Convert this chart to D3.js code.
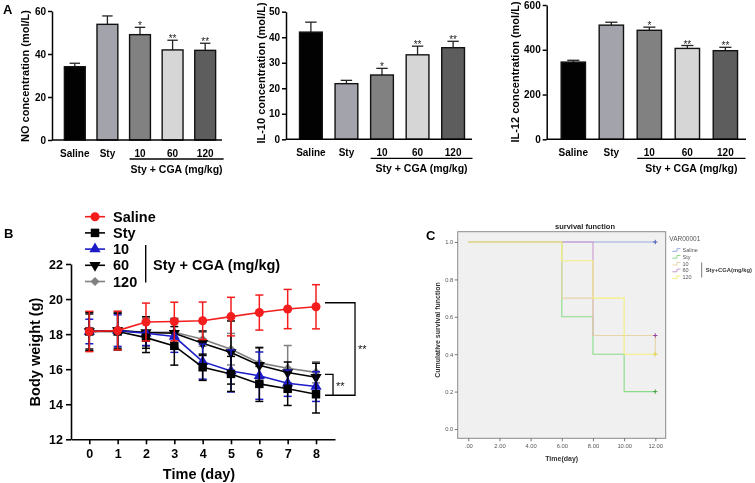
<!DOCTYPE html>
<html><head><meta charset="utf-8">
<script src="https://cdn.jsdelivr.net/npm/d3@7"></script>
<style>
body{margin:0;background:#fff}
svg{display:block}
text{font-family:"Liberation Sans",Arial,Helvetica,sans-serif}
</style>
</head><body>
<svg id="chart" width="755" height="483"></svg>
<script>
// ---------- DATA ----------
const groups = ["Saline", "Sty", "10", "60", "120"];
const barColors = ["#000000", "#a3a3ab", "#808080", "#d6d6d6", "#5c5c5c"];

const noValues = [34.1, 53.8, 49.0, 41.9, 41.7];
const noErrors = [1.6, 3.9, 3.4, 4.5, 3.3];
const noStars = ["", "", "*", "**", "**"];
const noTicks = [0, 20, 40, 60];

const il10Values = [42.0, 21.8, 25.2, 33.1, 35.9];
const il10Errors = [3.9, 1.3, 2.6, 3.4, 2.5];
const il10Stars = ["", "", "*", "**", "**"];
const il10Ticks = [0, 10, 20, 30, 40, 50];

const il12Values = [345, 510, 487, 406, 396];
const il12Errors = [8, 13, 14, 13, 15];
const il12Stars = ["", "", "*", "**", "**"];
const il12Ticks = [0, 200, 400, 600];

const days = [0, 1, 2, 3, 4, 5, 6, 7, 8];
const salineWeight = [18.15, 18.2, 18.69, 18.72, 18.76, 19.0, 19.23, 19.43, 19.56];
const salineSD     = [1.15, 1.1, 1.08, 1.1, 1.07, 1.1, 1.0, 1.12, 1.26];
const styWeight    = [18.15, 18.15, 17.8, 17.33, 16.11, 15.73, 15.16, 14.88, 14.57];
const stySD        = [1.1, 1.05, 0.85, 1.1, 0.75, 1.0, 1.0, 0.95, 1.07];
const cga10Weight  = [18.15, 18.2, 18.05, 17.86, 16.43, 15.9, 15.63, 15.2, 15.01];
const cga10SD      = [0.7, 0.9, 0.7, 0.9, 1.0, 1.2, 1.35, 0.75, 0.85];
const cga60Weight  = [18.15, 18.2, 18.09, 18.05, 17.48, 16.95, 16.22, 15.81, 15.54];
const cga60SD      = [1.0, 1.0, 0.9, 0.8, 0.7, 1.8, 1.0, 0.6, 0.8];
const cga120Weight = [18.15, 18.2, 18.1, 18.11, 17.71, 17.14, 16.36, 16.05, 15.82];
const cga120SD     = [1.1, 1.1, 0.8, 0.8, 0.4, 0.9, 0.9, 1.3, 0.6];
const weightTicks = [12, 14, 16, 18, 20, 22];

const survDaysSaline = [0];            const survProbSaline = [1.0];
const survDaysSty    = [0, 6, 8, 10];  const survProbSty    = [1.0, 0.6, 0.4, 0.2];
const survDays10     = [0, 6, 8, 12];  const survProb10     = [1.0, 0.7, 0.5, 0.4];
const survDays60     = [0, 8];         const survProb60     = [1.0, 0.5];
const survDays120    = [0, 6, 8, 10];  const survProb120    = [1.0, 0.9, 0.7, 0.4];
const censorDay = 12;
const survTicksX = [0, 2, 4, 6, 8, 10, 12];
const survTickLabelsX = [".00", "2.00", "4.00", "6.00", "8.00", "10.00", "12.00"];
const survTicksY = [0, 0.2, 0.4, 0.6, 0.8, 1.0];
const survTickLabelsY = ["0.0", "0.2", "0.4", "0.6", "0.8", "1.0"];

// ---------- DRAW ----------
const svg = d3.select("#chart");
const root = svg.append("g").attr("opacity", 0.995);

// Panel letters
root.append("text").attr("x", 3).attr("y", 14).attr("font-size", 13).attr("font-weight", "bold").text("A");
root.append("text").attr("x", 4).attr("y", 238).attr("font-size", 13).attr("font-weight", "bold").text("B");
root.append("text").attr("x", 426).attr("y", 240).attr("font-size", 13).attr("font-weight", "bold").text("C");

// ---- Panel A: bar charts ----
const barPanels = [
  {values: noValues, errors: noErrors, stars: noStars, ticks: noTicks, max: 60,
   title: "NO concentration (mol/L)", x0: 52, x1: 228, y0: 140, y1: 11, tx: 28.5, ty: 76},
  {values: il10Values, errors: il10Errors, stars: il10Stars, ticks: il10Ticks, max: 50,
   title: "IL-10 concentration (mol/L)", x0: 286, x1: 478, y0: 139.3, y1: 11.7, tx: 264.5, ty: 73},
  {values: il12Values, errors: il12Errors, stars: il12Stars, ticks: il12Ticks, max: 600,
   title: "IL-12 concentration (mol/L)", x0: 546.7, x1: 752, y0: 139.3, y1: 5, tx: 518.5, ty: 72}
];

barPanels.forEach(p => {
  const g = root.append("g");
  const y = d3.scaleLinear().domain([0, p.max]).range([p.y0, p.y1]);
  const x = d3.scaleBand().domain(groups).range([p.x0, p.x1]).paddingInner(0.36).paddingOuter(0.38);
  const bw = x.bandwidth();

  // error bars (upper only)
  groups.forEach((k, i) => {
    const cx = x(k) + bw / 2;
    g.append("line").attr("x1", cx).attr("x2", cx)
      .attr("y1", y(p.values[i])).attr("y2", y(p.values[i] + p.errors[i]))
      .attr("stroke", "#222").attr("stroke-width", 1.3);
    g.append("line").attr("x1", cx - bw * 0.25).attr("x2", cx + bw * 0.25)
      .attr("y1", y(p.values[i] + p.errors[i])).attr("y2", y(p.values[i] + p.errors[i]))
      .attr("stroke", "#222").attr("stroke-width", 1.3);
  });
  // bars
  g.selectAll("rect.bar").data(groups).join("rect")
    .attr("x", k => x(k)).attr("width", bw)
    .attr("y", (k, i) => y(p.values[i]))
    .attr("height", (k, i) => y(0) - y(p.values[i]))
    .attr("fill", (k, i) => barColors[i])
    .attr("stroke", "#111").attr("stroke-width", 1.4);
  // stars
  groups.forEach((k, i) => {
    if (!p.stars[i]) return;
    g.append("text").attr("x", x(k) + bw / 2).attr("y", y(p.values[i] + p.errors[i]) + 2)
      .attr("text-anchor", "middle").attr("font-size", 10).attr("fill", "#222").text(p.stars[i]);
  });
  // y axis
  const ay = g.append("g").attr("transform", `translate(${p.x0},0)`)
    .call(d3.axisLeft(y).tickValues(p.ticks).tickSize(4).tickSizeOuter(0).tickPadding(2));
  ay.select(".domain").attr("stroke", "#000").attr("stroke-width", 1.5);
  ay.selectAll(".tick line").attr("stroke", "#000").attr("stroke-width", 1.5);
  ay.selectAll(".tick text").attr("font-size", 10).attr("font-weight", "bold").attr("fill", "#000")
    .attr("font-family", '"Liberation Sans",Arial,sans-serif');
  // x axis baseline
  g.append("line").attr("x1", p.x0).attr("x2", p.x1 - 6).attr("y1", y(0)).attr("y2", y(0))
    .attr("stroke", "#000").attr("stroke-width", 1.5);
  // x labels
  groups.forEach(k => {
    g.append("text").attr("x", x(k) + bw / 2).attr("y", p.y0 + 17)
      .attr("text-anchor", "middle").attr("font-size", 10).attr("font-weight", "bold").text(k);
  });
  const bx1 = x("10"), bx2 = x("120") + bw + 8;
  g.append("line").attr("x1", bx1).attr("x2", bx2).attr("y1", p.y0 + 19).attr("y2", p.y0 + 19)
    .attr("stroke", "#000").attr("stroke-width", 1.3);
  g.append("text").attr("x", (bx1 + bx2) / 2).attr("y", p.y0 + 33)
    .attr("text-anchor", "middle").attr("font-size", 10.5).attr("font-weight", "bold").text("Sty + CGA (mg/kg)");
  // y title
  g.append("text").attr("transform", `translate(${p.tx},${p.ty}) rotate(-90)`)
    .attr("text-anchor", "middle").attr("font-size", 11).attr("font-weight", "bold").text(p.title);
});

// ---- Panel B: body weight ----
const xB = d3.scaleLinear().domain([-0.646, 8.67]).range([71, 335]);
const yB = d3.scaleLinear().domain([12, 22]).range([439.3, 264]);
const gB = root.append("g");

const seriesB = [
  {name: "120", vals: cga120Weight, sd: cga120SD, color: "#7f7f7f", sym: d3.symbolSquare, size: 40, rot: 45},
  {name: "60", vals: cga60Weight, sd: cga60SD, color: "#000000", sym: d3.symbolTriangle, size: 55, rot: 180},
  {name: "10", vals: cga10Weight, sd: cga10SD, color: "#1a1ac8", sym: d3.symbolTriangle, size: 55, rot: 0},
  {name: "Sty", vals: styWeight, sd: stySD, color: "#000000", sym: d3.symbolSquare, size: 72, rot: 0},
  {name: "Saline", vals: salineWeight, sd: salineSD, color: "#f41c1c", sym: d3.symbolCircle, size: 64, rot: 0}
];
const lineB = d3.line().x((d, i) => xB(days[i])).y(d => yB(d));

seriesB.forEach(s => {
  const g = gB.append("g");
  days.forEach((d, i) => {
    const cx = xB(d), top = yB(s.vals[i] + s.sd[i]), bot = yB(s.vals[i] - s.sd[i]);
    g.append("line").attr("x1", cx).attr("x2", cx).attr("y1", top).attr("y2", bot)
      .attr("stroke", s.color).attr("stroke-width", 1.5);
    [top, bot].forEach(yy => g.append("line").attr("x1", cx - 4).attr("x2", cx + 4)
      .attr("y1", yy).attr("y2", yy).attr("stroke", s.color).attr("stroke-width", 1.5));
  });
  g.append("path").attr("d", lineB(s.vals)).attr("fill", "none")
    .attr("stroke", s.color).attr("stroke-width", 1.6);
  g.selectAll("path.m").data(s.vals).join("path")
    .attr("d", d3.symbol().type(s.sym).size(s.size))
    .attr("transform", (d, i) => `translate(${xB(days[i])},${yB(d)}) rotate(${s.rot})`)
    .attr("fill", s.color);
});

// axes B
const axYB = gB.append("g").attr("transform", "translate(71,0)")
  .call(d3.axisLeft(yB).tickValues(weightTicks).tickSize(5).tickSizeOuter(0).tickPadding(3));
const axXB = gB.append("g").attr("transform", "translate(0,439.3)")
  .call(d3.axisBottom(xB).tickValues(days).tickSize(5).tickSizeOuter(0).tickPadding(5));
[axYB, axXB].forEach(a => {
  a.select(".domain").attr("stroke", "#000").attr("stroke-width", 1.6);
  a.selectAll(".tick line").attr("stroke", "#000").attr("stroke-width", 1.6);
  a.selectAll(".tick text").attr("font-size", 12.5).attr("font-weight", "bold").attr("fill", "#000")
    .attr("font-family", '"Liberation Sans",Arial,sans-serif');
});
gB.append("text").attr("transform", "translate(40,352) rotate(-90)").attr("text-anchor", "middle")
  .attr("font-size", 14.5).attr("font-weight", "bold").text("Body weight (g)");
gB.append("text").attr("x", 199).attr("y", 479).attr("text-anchor", "middle")
  .attr("font-size", 14.5).attr("font-weight", "bold").text("Time (day)");

// significance brackets B
const last = days.length - 1;
const bxA = xB(days[last]) + 9, bxOuter = xB(days[last]) + 39, bxInner = xB(days[last]) + 17;
const byTop = yB(salineWeight[last]) - 4, byBot = yB(styWeight[last]) + 1, byInner = yB(cga120Weight[last]) + 2;
gB.append("path").attr("d", `M${bxA},${byTop}H${bxOuter}V${byBot}H${bxA}`)
  .attr("fill", "none").attr("stroke", "#000").attr("stroke-width", 1.3);
gB.append("path").attr("d", `M${bxA},${byInner}H${bxInner}V${byBot}`)
  .attr("fill", "none").attr("stroke", "#000").attr("stroke-width", 1.3);
gB.append("text").attr("x", bxOuter + 3).attr("y", (byTop + byBot) / 2 + 4).attr("font-size", 11).attr("fill", "#111").text("**");
gB.append("text").attr("x", bxInner + 3).attr("y", (byInner + byBot) / 2 + 5).attr("font-size", 11).attr("fill", "#111").text("**");

// legend B
const legendOrder = ["Saline", "Sty", "10", "60", "120"];
const legendY = d3.scalePoint().domain(legendOrder).range([216.7, 281.5]);
legendOrder.forEach(name => {
  const s = seriesB.find(t => t.name === name);
  const yy = legendY(name);
  gB.append("line").attr("x1", 85).attr("x2", 105).attr("y1", yy).attr("y2", yy)
    .attr("stroke", s.color).attr("stroke-width", 1.6);
  gB.append("path").attr("d", d3.symbol().type(s.sym).size(s.size))
    .attr("transform", `translate(95,${yy}) rotate(${s.rot})`).attr("fill", s.color);
  gB.append("text").attr("x", 113).attr("y", yy + 5).attr("font-size", 14.5).attr("font-weight", "bold").text(name);
});
gB.append("line").attr("x1", 145.7).attr("x2", 145.7).attr("y1", legendY("10") - 4).attr("y2", legendY("120") + 1)
  .attr("stroke", "#000").attr("stroke-width", 1.4);
gB.append("text").attr("x", 153).attr("y", legendY("60") + 5).attr("font-size", 14.5).attr("font-weight", "bold")
  .text("Sty + CGA (mg/kg)");

// ---- Panel C: survival ----
const gC = root.append("g");
const xC = d3.scaleLinear().domain([0, 12]).range([468.3, 655.3]);
const yC = d3.scaleLinear().domain([0, 1]).range([429, 242]);
const boxL = 457.7, boxR = 665.7, boxT = 231.7, boxB = 438.3;
gC.append("rect").attr("x", boxL).attr("y", boxT).attr("width", boxR - boxL).attr("height", boxB - boxT)
  .attr("fill", "#f0f0f0").attr("stroke", "#8a8a8a").attr("stroke-width", 1);

const axYC = gC.append("g").attr("transform", `translate(${boxL},0)`)
  .call(d3.axisLeft(yC).tickValues(survTicksY).tickFormat((d, i) => survTickLabelsY[i]).tickSize(3).tickSizeOuter(0).tickPadding(1.5));
const axXC = gC.append("g").attr("transform", `translate(0,${boxB})`)
  .call(d3.axisBottom(xC).tickValues(survTicksX).tickFormat((d, i) => survTickLabelsX[i]).tickSize(3).tickSizeOuter(0).tickPadding(3));
[axYC, axXC].forEach(a => {
  a.select(".domain").remove();
  a.selectAll(".tick line").attr("stroke", "#555").attr("stroke-width", 0.8);
  a.selectAll(".tick text").attr("font-size", 5.8).attr("fill", "#555")
    .attr("font-family", '"Liberation Sans",Arial,sans-serif');
});

const survSeries = [
  {days: survDaysSaline, prob: survProbSaline, color: "#98a8e0", mark: "#4050b0"},
  {days: survDaysSty, prob: survProbSty, color: "#88dc88", mark: "#3c9a3c"},
  {days: survDays60, prob: survProb60, color: "#c99acd", mark: "#8a3a9a"},
  {days: survDays10, prob: survProb10, color: "#e6d4a6", mark: "#d8c070"},
  {days: survDays120, prob: survProb120, color: "#f3ef7c", mark: "#e8e060"}
];
const stepLine = d3.line().x(d => xC(d[0])).y(d => yC(d[1])).curve(d3.curveStepAfter);
survSeries.forEach(s => {
  const pts = s.days.map((d, i) => [d, s.prob[i]]);
  if (pts[pts.length - 1][0] < censorDay) pts.push([censorDay, s.prob[s.prob.length - 1]]);
  gC.append("path").attr("d", stepLine(pts)).attr("fill", "none")
    .attr("stroke", s.color).attr("stroke-width", 1.1);
});
survSeries.forEach(s => {
  const cx = xC(censorDay), cy = yC(s.prob[s.prob.length - 1]);
  gC.append("path").attr("d", `M${cx - 2.2},${cy}H${cx + 2.2}M${cx},${cy - 2.2}V${cy + 2.2}`)
    .attr("stroke", s.mark).attr("stroke-width", 0.9);
});

gC.append("text").attr("x", 585).attr("y", 228.5).attr("text-anchor", "middle")
  .attr("font-size", 7.5).attr("font-weight", "bold").attr("fill", "#222").text("survival function");
gC.append("text").attr("x", 561.7).attr("y", 461).attr("text-anchor", "middle")
  .attr("font-size", 7).attr("font-weight", "bold").attr("fill", "#333").text("Time(day)");
gC.append("text").attr("transform", "translate(440,330) rotate(-90)").attr("text-anchor", "middle")
  .attr("font-size", 7).attr("font-weight", "bold").attr("fill", "#333").text("Cumulative survival function");

// legend C
gC.append("text").attr("x", 669.3).attr("y", 241.3).attr("font-size", 6.5).attr("fill", "#555").text("VAR00001");
const legC = ["Saline", "Sty", "10", "60", "120"];
const legCColors = ["#98a8e0", "#88dc88", "#e6d4a6", "#c99acd", "#f3ef7c"];
const legCY = d3.scalePoint().domain(legC).range([250, 277.3]);
legC.forEach((n, i) => {
  const yy = legCY(n);
  gC.append("path").attr("d", `M672.3,${yy + 1.3}H677V${yy - 1.3}H680.5`).attr("fill", "none")
    .attr("stroke", legCColors[i]).attr("stroke-width", 1);
  gC.append("text").attr("x", 682.5).attr("y", yy + 2).attr("font-size", 5.5).attr("fill", "#555").text(n);
});
gC.append("line").attr("x1", 701.7).attr("x2", 701.7).attr("y1", 262.5).attr("y2", 277.5)
  .attr("stroke", "#555").attr("stroke-width", 0.8);
gC.append("text").attr("x", 705.7).attr("y", 272).attr("font-size", 5.8).attr("font-weight", "bold")
  .attr("fill", "#333").text("Sty+CGA(mg/kg)");
</script>
</body></html>
